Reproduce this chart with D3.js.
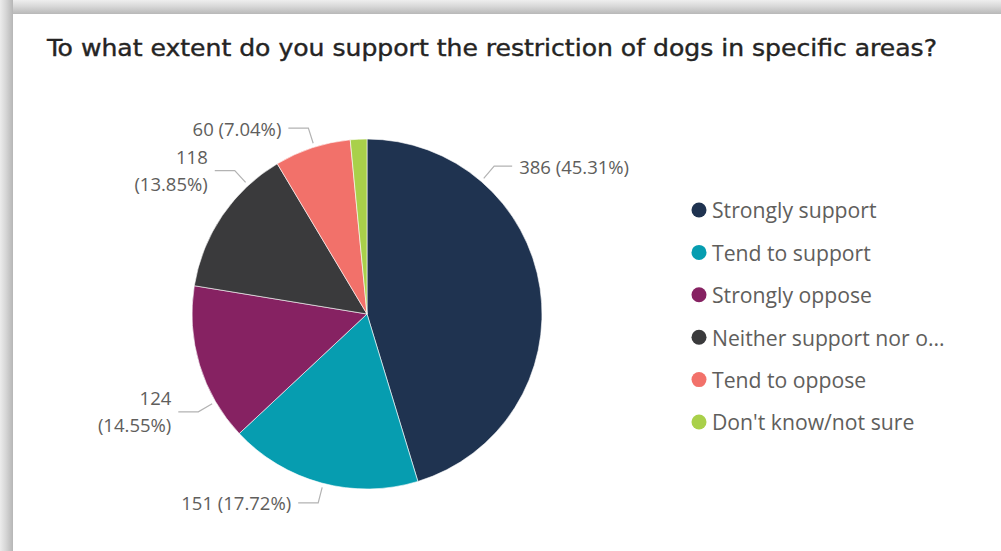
<!DOCTYPE html>
<html>
<head>
<meta charset="utf-8">
<script src="https://cdn.jsdelivr.net/npm/d3@7"></script>
<style>
  html, body { margin: 0; padding: 0; background: #fff; }
  svg { display: block; }
</style>
</head>
<body>
<svg id="chart" width="1001" height="551"></svg>
<script>
// ---- data ----
const title = "To what extent do you support the restriction of dogs in specific areas?";
const categories = ["Strongly support", "Tend to support", "Strongly oppose", "Neither support nor oppose", "Tend to oppose", "Don't know/not sure"];
const legendLabels = ["Strongly support", "Tend to support", "Strongly oppose", "Neither support nor o...", "Tend to oppose", "Don't know/not sure"];
const values = [386, 151, 124, 118, 60, 13];
const percentLabels = ["45.31%", "17.72%", "14.55%", "13.85%", "7.04%", ""];
const colors = ["#1F3350", "#069DB0", "#862262", "#3A3A3C", "#F2716A", "#A9D04A"];

// ---- label layout (style, not data) ----
// angle (deg, clockwise from 12 o'clock) where leader line meets each slice; null = no label
const labelAngle = [40.7, 194.5, 239.9, 317.3, 342.5, null];
const labelTwoLine = [false, false, true, true, false, false];

const W = 1001, H = 551;
const svg = d3.select("#chart");

// ---- frame / shadow ----
const defs = svg.append("defs");
const gl = defs.append("linearGradient").attr("id", "gl").attr("x1", 0).attr("x2", 1).attr("y1", 0).attr("y2", 0);
gl.append("stop").attr("offset", 0).attr("stop-color", "#ececec");
gl.append("stop").attr("offset", 0.45).attr("stop-color", "#d6d6d6");
gl.append("stop").attr("offset", 1).attr("stop-color", "#b6b6b6");
const gt = defs.append("linearGradient").attr("id", "gt").attr("x1", 0).attr("x2", 0).attr("y1", 0).attr("y2", 1);
gt.append("stop").attr("offset", 0).attr("stop-color", "#eeeeee");
gt.append("stop").attr("offset", 0.45).attr("stop-color", "#d8d8d8");
gt.append("stop").attr("offset", 1).attr("stop-color", "#b8b8b8");
svg.append("rect").attr("x", 0).attr("y", 0).attr("width", W).attr("height", H).attr("fill", "#fff");
svg.append("rect").attr("x", 0).attr("y", 0).attr("width", W).attr("height", 14).attr("fill", "url(#gt)");
svg.append("rect").attr("x", 0).attr("y", 0).attr("width", 13).attr("height", H).attr("fill", "url(#gl)");

// ---- title ----
svg.append("text")
  .attr("x", 47).attr("y", 56)
  .attr("font-family", "'DejaVu Sans Condensed', 'Liberation Sans Narrow', 'DejaVu Sans', sans-serif")
  .attr("font-size", 22.5)
  .attr("fill", "#252423")
  .attr("stroke", "#252423").attr("stroke-width", 0.35)
  .attr("textLength", 890)
  .attr("lengthAdjust", "spacingAndGlyphs")
  .text(title);

// ---- pie ----
const cx = 367, cy = 314, R = 175;
const pie = d3.pie().sort(null).value(d => d)(values);
const arc = d3.arc().innerRadius(0).outerRadius(R);
const g = svg.append("g").attr("transform", `translate(${cx},${cy})`);
g.selectAll("path.slice").data(pie).join("path")
  .attr("class", "slice")
  .attr("d", arc)
  .attr("fill", (d, i) => colors[i])
  .attr("stroke", "#fff").attr("stroke-width", 0.6);

// ---- data labels ----
const labelFont = "'Segoe UI', 'Open Sans', 'Noto Sans', sans-serif";
const labelColor = "#605E5C";
const pt = (deg, r) => {
  const a = deg * Math.PI / 180;
  return [r * Math.sin(a), -r * Math.cos(a)];
};
pie.forEach((d, i) => {
  let deg = labelAngle[i];
  if (deg == null) return;
  const s = d.startAngle * 180 / Math.PI, e = d.endAngle * 180 / Math.PI;
  deg = Math.max(s + 1, Math.min(e - 1, deg));
  const right = deg < 180;
  const p0 = pt(deg, R + 4);
  const p1 = pt(deg, R + 20);
  const p2 = [p1[0] + (right ? 18 : -20), p1[1]];
  g.append("path")
    .attr("d", d3.line()([p0, p1, p2]))
    .attr("fill", "none").attr("stroke", "#b3b3b3").attr("stroke-width", 1.2);
  const tx = p2[0] + (right ? 7 : -7);
  const anchor = right ? "start" : "end";
  const line1 = `${values[i]}`;
  const line2 = `(${percentLabels[i]})`;
  const t = g.append("text")
    .attr("font-family", labelFont).attr("font-size", 18.5)
    .attr("fill", labelColor).attr("text-anchor", anchor);
  if (labelTwoLine[i]) {
    t.append("tspan").attr("x", tx).attr("y", p2[1] - 13.5).attr("dy", "0.35em").text(line1);
    t.append("tspan").attr("x", tx).attr("y", p2[1] + 13.5).attr("dy", "0.35em").text(line2);
  } else {
    t.attr("x", tx).attr("y", p2[1] + 1).attr("dy", "0.35em").text(`${line1} ${line2}`);
  }
});

// ---- legend ----
const legendY = d3.scalePoint().domain(d3.range(categories.length)).range([210, 422]);
const lg = svg.append("g");
const items = lg.selectAll("g").data(categories).join("g")
  .attr("transform", (d, i) => `translate(699,${legendY(i)})`);
items.append("circle").attr("r", 7.5).attr("fill", (d, i) => colors[i]);
items.append("text")
  .attr("x", 13).attr("y", 1).attr("dy", "0.35em")
  .attr("font-family", labelFont).attr("font-size", 21.2)
  .attr("fill", labelColor)
  .text((d, i) => legendLabels[i]);
</script>
</body>
</html>
